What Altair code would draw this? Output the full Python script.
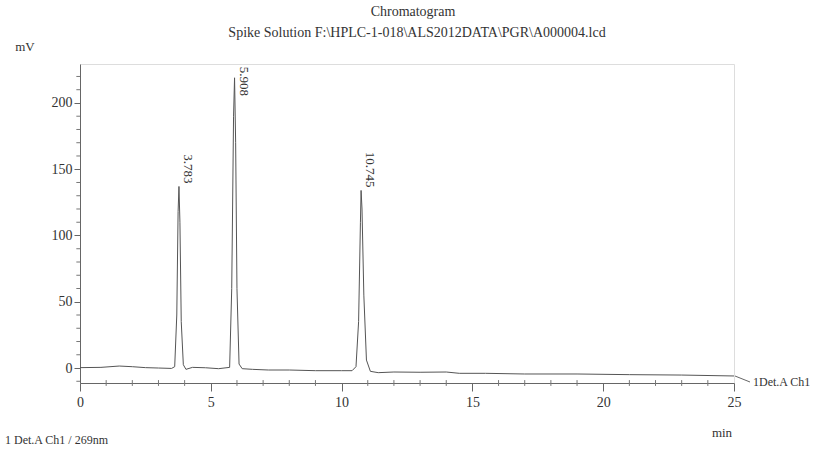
import altair as alt
import pandas as pd

# ---- data ----
time_min = [0.0, 0.8, 1.5, 2.0, 2.5, 3.0, 3.5, 3.62, 3.70, 3.75, 3.783, 3.82, 3.87, 3.95, 4.05,
            4.3, 4.8, 5.3, 5.72, 5.80, 5.87, 5.908, 5.95, 6.00, 6.08, 6.2, 6.6, 7.2, 8.0, 9.0,
            10.0, 10.4, 10.55, 10.65, 10.72, 10.745, 10.78, 10.85, 10.95, 11.1, 11.4, 12.0,
            13.0, 14.0, 14.5, 15.5, 17.0, 19.0, 21.0, 23.0, 25.0]
signal_mv = [0.3, 0.5, 1.5, 1.0, 0.3, 0.0, -0.3, 1.0, 40, 118, 137, 110, 35, 2.5, -1.0,
             0.5, 0.2, -0.5, 0.5, 60, 190, 219, 170, 60, 3, -0.5, -1.0, -1.5, -1.5, -2.0,
             -2.0, -2.0, 1.0, 35, 110, 134, 120, 55, 6, -2.5, -3.5, -3.0,
             -3.2, -3.0, -4.0, -4.0, -4.5, -4.5, -5.0, -5.3, -6.0]

peak_rt = [3.783, 5.908, 10.745]
peak_height = [137, 219, 134]
peak_label = ["3.783", "5.908", "10.745"]

x_major = [0, 5, 10, 15, 20, 25]
x_minor = [v for v in range(0, 26) if v % 5]
y_major = [0, 50, 100, 150, 200]
y_minor = [v for v in range(-10, 230, 10) if v % 50]

title_top = "Chromatogram"
title_sub = "Spike Solution F:\\HPLC-1-018\\ALS2012DATA\\PGR\\A000004.lcd"
y_unit = "mV"
x_unit = "min"
trace_name = "1Det.A Ch1"
footer = "1 Det.A Ch1 / 269nm"

FONT = "Liberation Serif"
INK = "#333333"
LINE = "#555555"
AXC = "#666666"

trace = pd.DataFrame({"t": time_min, "mV": signal_mv})
peaks = pd.DataFrame({"rt": peak_rt, "h": peak_height, "label": peak_label})

Y_LO, Y_HI = -11.3, 229.4
xscale = alt.Scale(domain=[0, 25], nice=False, zero=False)
yscale = alt.Scale(domain=[Y_LO, Y_HI], nice=False, zero=False)

x_axis = alt.Axis(values=x_major, orient="bottom", tickSize=8, labelPadding=4, grid=False,
                  title=None, labelFont=FONT, labelFontSize=14, labelColor=INK,
                  domainColor=AXC, tickColor=AXC, labelFlush=False, labelOverlap=False,
                  format="d")
y_axis = alt.Axis(values=y_major, orient="left", tickSize=6, labelPadding=2, grid=False,
                  title=None, labelFont=FONT, labelFontSize=14, labelColor=INK,
                  domainColor=AXC, tickColor=AXC, labelOverlap=False, format="d")

line = alt.Chart(trace).mark_line(color=LINE, strokeWidth=1, clip=True).encode(
    x=alt.X("t:Q", scale=xscale, axis=x_axis),
    y=alt.Y("mV:Q", scale=yscale, axis=y_axis),
)

# minor ticks (every 1 min / 10 mV): short rules straddling the axis lines,
# ends expressed through the same scales as the data
xminor = alt.Chart(pd.DataFrame({"xm": x_minor})).transform_calculate(
    ya=f"{Y_LO} - 2.2", yb=f"{Y_LO} + 2.2"
).mark_rule(color="#777777", strokeWidth=1).encode(
    x=alt.X("xm:Q", scale=xscale, axis=x_axis),
    y=alt.Y("ya:Q", scale=yscale, axis=y_axis),
    y2="yb:Q",
)
yminor = alt.Chart(pd.DataFrame({"ym": y_minor})).transform_calculate(
    xa="-0.14", xb="0"
).mark_rule(color="#777777", strokeWidth=1).encode(
    y=alt.Y("ym:Q", scale=yscale, axis=y_axis),
    x=alt.X("xa:Q", scale=xscale, axis=x_axis),
    x2="xb:Q",
)

labels = alt.Chart(peaks).transform_calculate(
    ly="min(datum.h, 203)"
).mark_text(angle=90, align="right", baseline="bottom", dx=-3, dy=-2,
            font=FONT, fontSize=13, color=INK).encode(
    x=alt.X("rt:Q", scale=xscale, axis=x_axis),
    y=alt.Y("ly:Q", scale=yscale, axis=y_axis),
    text="label:N",
)

def note(txt, x, y, align="left", size=12):
    return alt.Chart(pd.DataFrame({"s": [txt]})).mark_text(
        align=align, baseline="middle", font=FONT, fontSize=size, color=INK
    ).encode(x=alt.value(x), y=alt.value(y), text="s:N")

connector = alt.Chart(pd.DataFrame({"a": [0]})).mark_rule(color=AXC, strokeWidth=1).encode(
    x=alt.value(655), x2=alt.value(670), y=alt.value(312), y2=alt.value(318)
)

chart = alt.layer(
    line, xminor, yminor, labels, connector,
    note(title_top, 333, -52, align="center", size=14),
    note(title_sub, 337, -31, align="center", size=14),
    note(y_unit, -55, -17, align="center", size=13),
    note(x_unit, 642, 369, align="center", size=13),
    note(trace_name, 673, 318, size=12),
    note(footer, -75, 376, size=12),
).properties(
    width=654, height=319,
    autosize=alt.AutoSizeParams(type="none"),
    padding={"left": 80, "top": 64, "right": 89, "bottom": 67},
).configure_view(stroke="#777777", strokeWidth=1).configure(background="white")

chart.save("out.html", embed_options={"renderer": "svg", "actions": False})
